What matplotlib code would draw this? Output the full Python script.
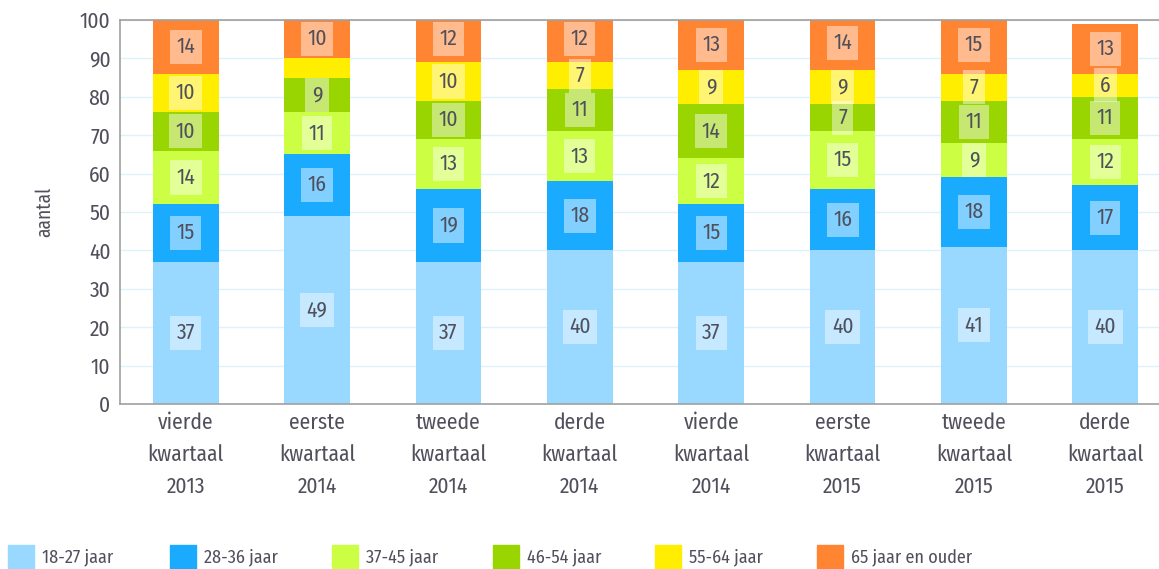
import numpy as np
import matplotlib.pyplot as plt
from matplotlib.patches import Rectangle

plt.rcParams['font.family'] = ['Fira Sans Condensed', 'DejaVu Sans']

# kwartalen op de x-as
kwartalen = ['vierde\nkwartaal\n2013', 'eerste\nkwartaal\n2014', 'tweede\nkwartaal\n2014',
             'derde\nkwartaal\n2014', 'vierde\nkwartaal\n2014', 'eerste\nkwartaal\n2015',
             'tweede\nkwartaal\n2015', 'derde\nkwartaal\n2015']

# aantallen per leeftijdsgroep
g18_27 = [37, 49, 37, 40, 37, 40, 41, 40]
g28_36 = [15, 16, 19, 18, 15, 16, 18, 17]
g37_45 = [14, 11, 13, 13, 12, 15, 9, 12]
g46_54 = [10, 9, 10, 11, 14, 7, 11, 11]
g55_64 = [10, 5, 10, 7, 9, 9, 7, 6]
g65plus = [14, 10, 12, 12, 13, 14, 15, 13]

groepen = ['18-27 jaar', '28-36 jaar', '37-45 jaar', '46-54 jaar', '55-64 jaar', '65 jaar en ouder']
reeksen = [g18_27, g28_36, g37_45, g46_54, g55_64, g65plus]
kleuren = ['#99d8ff', '#1aabff', '#ccff44', '#99d500', '#ffee00', '#ff8533']

tekst = '#50505c'

fig = plt.figure(figsize=(11.59, 5.69), dpi=100)
W, H = 1159, 569
ax = fig.add_axes([120 / W, (H - 404) / H, 1051 / W, 384 / H])

x = np.arange(len(kwartalen))
onder = np.zeros(len(kwartalen))
for waarden, kleur in zip(reeksen, kleuren):
    waarden = np.array(waarden)
    ax.bar(x, waarden, 0.5, bottom=onder, color=kleur, zorder=2)
    for xi, b, v in zip(x, onder, waarden):
        if v >= 6:
            ax.text(xi, b + v / 2, str(v), ha='center', va='center', fontsize=15.5,
                    color=tekst, zorder=3,
                    bbox=dict(boxstyle='square,pad=0.3', fc='white', ec='none', alpha=0.45))
    onder += waarden

ax.set_xlim(-0.5, 7.5)
ax.set_ylim(0, 100)
ax.set_yticks(range(0, 101, 10))
ax.set_xticks(x)
ax.set_xticklabels(kwartalen, linespacing=1.62)
ax.tick_params(length=0, labelsize=15.5, colors=tekst)
ax.tick_params(axis='y', pad=7)
ax.tick_params(axis='x', pad=6)
ax.grid(axis='y', color='#ddf2fb', lw=1, zorder=0)
ax.set_axisbelow(True)
for s in ['left', 'bottom', 'top']:
    ax.spines[s].set_color('#a0a0a0')
    ax.spines[s].set_linewidth(1.2)
ax.spines['right'].set_visible(False)

fig.text(45 / W, 1 - 212 / H, 'aantal', rotation=90, ha='center', va='center',
         fontsize=14, color=tekst)

# legenda onderaan
for i, (naam, kleur) in enumerate(zip(groepen, kleuren)):
    x0 = 8 + i * 161.8
    fig.add_artist(Rectangle((x0 / W, (H - 571) / H), 26 / W, 26 / H,
                             transform=fig.transFigure, color=kleur))
    fig.text((x0 + 34) / W, 1 - 557 / H, naam, ha='left', va='center',
             fontsize=13, color=tekst)

fig.savefig('out.png', dpi=100)
